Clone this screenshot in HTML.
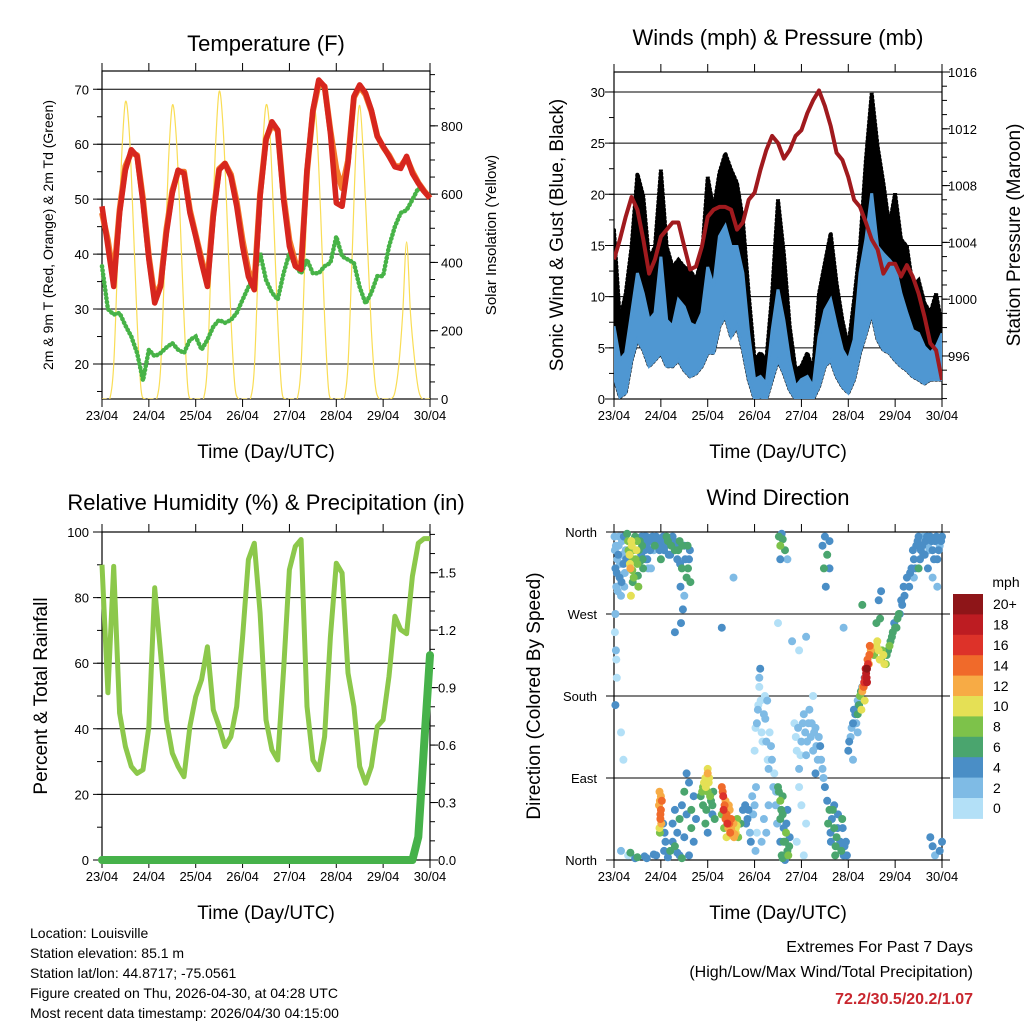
<!DOCTYPE html>
<html><head><meta charset="utf-8"><title>Weather station summary</title>
<style>
html,body{margin:0;padding:0;background:#fff;}
svg{display:block;font-family:"Liberation Sans",Arial,sans-serif;}
</style></head>
<body>
<svg id="chart" width="1024" height="1024" viewBox="0 0 1024 1024" xmlns="http://www.w3.org/2000/svg">
<rect x="0" y="0" width="1024" height="1024" fill="#fff"/>
<g id="layer"></g>
<text x="266" y="51" font-size="22" text-anchor="middle">Temperature (F)</text>
<text x="778" y="45" font-size="22" text-anchor="middle">Winds (mph) &amp; Pressure (mb)</text>
<text x="266" y="510" font-size="22" text-anchor="middle">Relative Humidity (%) &amp; Precipitation (in)</text>
<text x="778" y="505" font-size="22" text-anchor="middle">Wind Direction</text>
<text x="266" y="458" font-size="19" text-anchor="middle">Time (Day/UTC)</text>
<text x="778" y="458" font-size="19" text-anchor="middle">Time (Day/UTC)</text>
<text x="266" y="919" font-size="19" text-anchor="middle">Time (Day/UTC)</text>
<text x="778" y="919" font-size="19" text-anchor="middle">Time (Day/UTC)</text>
<text transform="translate(53,235) rotate(-90)" font-size="14" text-anchor="middle">2m &amp; 9m T (Red, Orange) &amp; 2m Td (Green)</text>
<text transform="translate(496,235) rotate(-90)" font-size="15" text-anchor="middle">Solar Insolation (Yellow)</text>
<text transform="translate(563,235) rotate(-90)" font-size="19" text-anchor="middle">Sonic Wind &amp; Gust (Blue, Black)</text>
<text transform="translate(1020,235) rotate(-90)" font-size="19" text-anchor="middle">Station Pressure (Maroon)</text>
<text transform="translate(47,696) rotate(-90)" font-size="19" text-anchor="middle">Percent &amp; Total Rainfall</text>
<text transform="translate(540,696) rotate(-90)" font-size="19" text-anchor="middle">Direction (Colored By Speed)</text>
<text x="1006" y="587" font-size="14" text-anchor="middle">mph</text>
<g font-size="14">
<text x="30" y="938">Location: Louisville</text>
<text x="30" y="958">Station elevation: 85.1 m</text>
<text x="30" y="978">Station lat/lon: 44.8717; -75.0561</text>
<text x="30" y="998">Figure created on Thu, 2026-04-30, at 04:28 UTC</text>
<text x="30" y="1018">Most recent data timestamp: 2026/04/30 04:15:00</text>
</g>
<text x="973" y="952" font-size="16" text-anchor="end">Extremes For Past 7 Days</text>
<text x="973" y="977" font-size="16" text-anchor="end">(High/Low/Max Wind/Total Precipitation)</text>
<text x="973" y="1004" font-size="16" font-weight="bold" fill="#c8262e" text-anchor="end">72.2/30.5/20.2/1.07</text>
</svg>
<script>
// ---------- data (3-hourly samples, index/8 = days since 23/04) ----------
const dayLabels = ["23/04","24/04","25/04","26/04","27/04","28/04","29/04","30/04"];
const temp2m = [48.7,41.4,34.1,47.5,55.3,59.0,57.8,49.3,39.0,31.1,34.1,43.8,51.1,55.3,54.7,47.5,43.2,38.4,34.1,46.8,55.3,56.5,54.1,48.7,41.4,35.9,33.5,50.5,60.8,64.1,62.6,49.9,41.4,37.8,37.2,55.3,66.2,71.7,70.5,62.0,49.3,48.7,56.5,68.7,70.8,69.3,66.2,61.4,59.6,57.8,55.9,55.6,57.8,54.7,52.9,51.4,50.2];
const temp9m = [47.5,42.5,35.5,48.0,56.0,58.5,58.0,50.0,39.5,32.0,34.5,44.5,51.5,55.0,55.0,48.0,43.5,39.0,35.0,47.5,55.5,56.5,54.5,49.5,42.5,37.0,34.5,51.0,61.0,63.5,62.5,50.5,42.5,38.5,38.0,55.0,66.0,71.0,70.5,62.5,55.5,52.0,57.0,68.5,70.5,69.0,66.0,61.5,59.5,58.0,56.0,56.0,57.5,55.0,53.0,51.5,50.2];
const dewpoint = [37.8,30.0,29.0,29.3,27.0,25.0,22.0,17.0,22.6,21.4,22.0,23.0,23.8,22.6,22.0,24.4,25.0,22.6,24.4,26.8,28.0,27.5,28.0,29.3,31.7,34.0,36.0,40.2,35.3,33.0,31.7,36.5,40.2,37.8,36.5,39.0,36.5,36.5,37.8,38.4,43.2,39.6,39.0,38.4,34.0,31.0,33.0,36.0,36.0,41.4,45.0,47.5,48.0,49.9,52.0,51.4,50.2];
// solar insolation, 2-hourly (index/12 = days)
const solar = [0,0,0,100,400,700,870,780,520,230,30,0, 0,0,0,90,380,690,860,770,530,240,30,0, 0,0,0,100,420,720,900,800,540,240,40,0, 0,0,0,90,390,700,860,780,520,230,30,0, 0,0,0,100,420,710,870,790,540,240,30,0, 0,0,0,100,400,720,860,700,450,200,40,0, 0,0,0,20,100,250,460,250,120,30,0,0, 0];
const gust = [16.5,7.7,10.3,14.9,22.0,19.8,13.6,14.9,22.4,14.9,12.9,13.6,12.9,12.6,11.6,13.9,21.7,18.5,22.1,24.0,22.4,21.1,17.5,10.3,3.8,4.5,3.8,10.3,19.5,14.2,7.1,2.8,3.2,4.5,2.8,10.3,13.3,16.2,11.3,7.7,5.1,9.7,14.9,23.4,29.9,24.7,21.1,16.9,20.1,15.6,14.9,11.0,11.6,9.4,8.4,10.3,7.1];
const windHigh = [7.1,3.8,4.5,8.4,12.3,10.3,7.7,8.4,13.9,7.7,7.1,9.7,9.0,7.4,7.1,8.4,12.9,11.0,15.9,16.9,14.9,14.9,12.3,6.4,1.9,2.2,1.5,6.7,10.7,7.7,3.8,1.2,1.9,2.2,1.2,6.1,8.7,9.7,7.1,4.8,3.8,5.8,12.3,15.6,20.1,14.9,14.2,13.6,12.9,10.3,8.4,6.7,6.4,5.1,4.5,5.1,6.4];
const windLow = [2.2,0.2,0.6,3.8,5.8,4.8,3.2,3.8,4.5,3.2,3.2,3.8,2.8,2.2,2.5,3.2,4.5,4.5,7.1,8.1,6.1,7.1,4.8,1.9,0,0.2,0,1.9,3.8,2.5,0.9,0,0,0,0,1.2,3.2,3.8,2.2,1.2,0.6,1.9,4.5,6.4,8.4,5.8,4.8,4.5,3.8,3.2,2.8,2.2,1.9,1.5,1.9,1.9,1.9];
const pressure = [1002.8,1004.2,1005.8,1007.2,1006.3,1004.2,1001.8,1002.8,1004.4,1004.9,1005.4,1005.4,1003.7,1002.1,1002.3,1003.7,1005.8,1006.3,1006.5,1006.5,1006.3,1004.9,1005.4,1007.0,1007.5,1009.1,1010.5,1011.5,1011.0,1009.9,1010.5,1011.5,1011.9,1013.1,1014.0,1014.7,1013.6,1012.2,1010.3,1009.8,1008.6,1007.0,1006.5,1005.4,1004.2,1003.5,1001.8,1002.5,1002.5,1001.6,1002.4,1001.6,1000.4,998.8,996.9,996.4,994.3];
const humidity = [90,51,89.5,44.8,34.6,28.5,26.4,27.5,40.7,83,63,42.7,32.6,28.5,25.4,40.7,49.8,55,65,45.8,40.7,34.6,37.6,46.8,68,91.6,96.6,75.3,42.7,33.6,30.5,58,88.5,95.6,97.7,46.8,30.5,27.5,37.6,68,90.5,87.5,57,46.8,28.5,23.4,28.5,40.7,42.7,56,74.3,70.2,69,86.5,96.6,98,98];
const rainfall = [0,0,0,0,0,0,0,0,0,0,0,0,0,0,0,0,0,0,0,0,0,0,0,0,0,0,0,0,0,0,0,0,0,0,0,0,0,0,0,0,0,0,0,0,0,0,0,0,0,0,0,0,0,0,0.12,0.6,1.07];
// wind direction scatter (observations)
const dirDays = [0.02,0.03,0.05,0.07,0.1,0.12,0.15,0.17,0.2,0.22,0.25,0.03,0.02,0.05,0.06,0.04,0.03,0.15,0.2,
0.3,0.33,0.35,0.38,0.4,0.42,0.45,0.48,0.5,0.52,0.55,0.58,0.6,0.62,0.65,0.68,0.7,0.73,0.36,0.4,
0.8,0.85,0.9,0.95,1.05,1.1,1.15,1.2,1.25,1.3,1.35,1.4,1.45,1.5,1.55,1.6,1.42,1.47,1.43,1.5,
0.97,0.98,1.0,0.99,1.0,0.98,1.05,1.08,1.1,1.07,
1.3,1.35,1.4,1.45,1.5,1.55,1.6,1.65,1.7,1.55,1.4,1.6,1.2,1.25,
1.85,1.9,1.95,2.0,2.02,2.05,2.1,2.15,2.12,1.97,2.0,
2.3,2.33,2.36,2.4,2.43,2.46,2.5,2.53,2.56,2.6,2.63,2.3,2.35,2.4,2.45,2.5,2.55,2.6,2.65,2.7,2.75,2.8,2.85,2.9,2.95,
3.0,3.05,3.08,3.1,3.15,3.2,3.22,3.25,3.28,3.3,3.35,3.4,3.45,3.1,3.12,3.0,3.05,3.02,3.2,
3.5,3.55,3.6,3.62,3.65,3.7,3.72,3.55,3.6,3.68,3.75,3.58,3.65,
3.52,3.55,3.6,3.65,3.58,3.55,
3.85,3.9,3.95,4.0,4.05,4.08,4.1,4.15,4.2,4.25,4.3,4.35,4.4,4.45,4.5,3.95,4.0,4.1,3.9,4.05,3.8,3.95,4.25,4.3,
4.45,4.5,4.55,4.6,4.52,4.48,4.6,
4.55,4.6,4.65,4.7,4.75,4.8,4.85,4.9,4.95,4.62,4.72,4.78,4.88,4.7,
5.0,5.05,5.1,5.15,5.2,5.25,5.1,5.2,5.3,5.35,
5.2,5.23,5.25,5.3,5.33,5.36,5.38,5.4,5.42,5.45,5.48,5.35,5.28,5.4,
5.55,5.6,5.65,5.7,5.75,5.8,5.85,5.9,5.95,6.0,6.05,6.1,5.6,5.65,5.7,5.68,6.15,6.2,
6.3,6.35,6.4,6.45,6.5,6.55,6.6,6.65,6.7,6.75,6.8,6.85,6.9,6.95,7.0,6.4,6.5,6.6,6.7,6.8,6.9,
6.75,6.8,6.85,6.95,7.0,
2.55,3.7,4.1,3.5,4.9,5.3,1.3,1.0,2.3,0.15,0.3,0.5,0.7,0.9];
const dirDegs = [340,320,300,330,345,310,290,350,325,300,340,270,250,220,200,230,170,140,110,
350,335,320,345,330,310,355,340,325,300,350,335,345,320,355,330,345,320,290,305,
350,340,355,345,355,345,350,335,355,340,330,350,320,345,310,330,300,275,260,290,
75,65,55,45,70,30,40,30,20,10,
15,30,45,60,75,50,85,35,20,95,5,5,10,20,
70,80,90,95,85,70,60,45,75,55,100,
80,70,60,50,45,40,35,30,25,35,45,50,35,25,60,45,40,30,25,40,55,60,45,30,70,
120,150,170,190,140,160,180,130,110,100,125,80,60,200,210,60,30,10,45,
80,65,50,35,20,10,5,20,70,40,25,5,0,
355,345,352,340,358,330,
150,120,100,130,160,140,115,150,135,120,145,110,125,100,80,80,60,40,20,5,240,230,180,95,
345,355,335,320,300,320,350,
65,55,45,35,25,15,10,5,20,30,5,50,35,60,
120,135,150,160,175,165,110,140,190,200,
160,170,180,185,190,200,205,210,215,225,230,175,165,195,
225,235,230,220,225,215,230,240,250,255,265,270,260,285,295,265,280,290,
300,320,330,345,355,340,355,350,345,355,340,350,330,345,355,310,320,335,320,310,300,
25,15,5,10,20,
310,330,245,260,255,280,250,330,255,10,5,3,2,5];
const dirSpeeds = [3,4,3,2,3,4,3,2,4,3,3,2,1,1,1,2,4,1,1,
8,10,12,11,9,8,7,10,9,8,6,5,7,6,4,5,4,3,10,7,
4,3,4,5,5,4,6,4,5,6,5,7,6,5,6,5,4,4,4,3,
12,13,14,15,12,8,4,4,5,4,
6,5,6,4,6,5,4,6,5,4,5,4,6,4,
7,8,10,12,11,8,6,6,7,6,10,
15,16,14,15,14,14,13,12,12,11,9,8,8,10,12,15,13,10,8,6,5,4,4,3,3,
1,2,1,1,0,2,1,2,1,2,3,2,2,3,4,2,1,2,3,
6,8,6,5,6,7,8,5,7,5,4,6,4,
6,8,7,6,5,4,
1,1,2,2,2,3,2,2,2,3,2,3,4,3,4,1,1,1,1,1,2,1,1,5,
4,5,6,5,4,6,4,
5,6,5,7,6,5,6,4,4,4,6,4,5,4,
4,3,4,4,3,4,3,2,4,4,
7,6,8,12,15,17,18,20,16,14,13,11,10,19,
8,10,11,9,10,8,6,7,6,7,6,5,6,5,4,7,4,4,
4,4,5,4,4,5,3,4,3,4,4,5,4,3,4,3,6,4,4,3,3,
4,4,3,5,4,
2,2,2,1,3,6,4,6,4,2,1,6,5,4];
// additional wind direction observations
const dirDaysB = [0.01,0.04,0.06,0.08,0.09,0.11,0.13,0.16,0.18,0.21,0.23,0.26,0.28,0.31,0.34,0.37,0.39,0.41,0.43,0.46,0.49,0.51,0.53,0.56,0.59,0.61,0.63,0.66,0.69,0.71,0.74,0.77,0.79,
0.82,0.87,0.92,0.97,1.02,1.07,1.12,1.17,1.22,1.27,1.32,1.37,1.41,1.46,1.52,1.57,1.62,1.58,1.63,
0.96,0.99,1.01,0.97,1.02,
0.35,0.45,0.65,0.85,1.15,1.35,1.45,1.25,1.3,1.5,1.65,1.7,1.75,
1.88,1.92,1.96,2.0,2.03,2.07,2.1,1.9,1.95,2.0,
2.32,2.34,2.38,2.42,2.44,2.48,2.52,2.55,2.58,2.62,2.38,2.47,
2.82,2.87,2.92,2.97,3.03,
3.02,3.07,3.13,3.17,3.23,3.27,3.32,3.37,3.42,3.46,3.48,3.3,3.25,3.15,
3.52,3.57,3.62,3.67,3.7,3.74,3.6,3.55,
3.88,3.93,3.98,4.03,4.12,4.17,4.22,4.27,4.32,4.37,4.42,4.47,
4.57,4.63,4.67,4.73,4.77,4.83,4.87,4.92,4.97,
5.02,5.07,5.12,5.17,5.22,5.27,
5.31,5.34,5.37,5.39,5.41,5.44,5.46,
5.57,5.62,5.67,5.72,5.77,5.82,5.88,5.93,5.98,6.03,6.08,6.13,6.18,6.25,
6.32,6.38,6.43,6.48,6.53,6.58,6.63,6.68,6.73,6.78,6.83,6.88,6.93,6.98];
const dirDegsB = [355,345,315,295,335,355,325,305,335,355,315,330,358,340,325,350,318,340,352,330,350,312,340,328,355,330,350,340,355,330,350,340,320,
355,345,350,340,350,340,355,335,345,350,345,340,325,345,330,345,340,320,305,
60,50,40,35,65,
8,2,4,6,3,8,2,40,55,25,55,70,45,
75,85,80,75,90,65,50,60,40,30,
75,55,45,40,35,30,28,35,28,38,65,55,
40,55,20,50,80,
145,165,175,130,155,175,140,110,95,75,40,60,30,20,
75,55,20,30,55,15,2,45,
135,145,115,150,130,165,150,140,125,135,110,90,
40,20,55,15,35,20,45,15,5,
130,145,165,150,170,185,
190,195,210,200,220,215,235,
230,240,220,230,215,225,235,245,260,255,270,285,300,310,
315,340,320,350,330,345,335,355,340,350,330,355,340,350];
const dirSpeedsB = [3,2,4,3,4,3,2,4,3,4,3,5,6,9,11,10,9,8,7,8,9,7,6,7,5,6,5,4,5,4,5,4,3,
5,6,4,5,4,5,6,5,6,4,5,6,5,6,5,6,4,6,6,
13,14,12,11,15,
6,5,4,5,5,4,6,5,4,5,6,4,5,
9,10,11,9,11,7,5,7,6,5,
14,16,15,16,13,14,13,11,12,10,13,12,
5,4,4,3,2,
1,2,1,1,2,2,1,2,1,2,3,2,2,2,
7,7,6,8,5,6,7,6,
1,2,1,2,2,2,3,2,3,2,3,3,
6,5,7,6,5,4,6,5,4,
4,3,4,3,5,6,
13,16,18,19,15,12,14,
9,11,10,9,10,7,8,6,5,6,6,5,4,4,
4,5,4,4,5,4,4,4,3,5,4,4,5,4];
const speedBins = ["0","2","4","6","8","10","12","14","16","18","20+"];
const speedColors = ["#b3e0f7","#7fbbe5","#4a8ec6","#4aa56e","#7dc24a","#e5e055","#f7ab45","#f06a2a","#dd3229","#bd1c22","#8e1518"];

// ---------- helpers ----------
const NS = 'http://www.w3.org/2000/svg';
const layer = document.getElementById('layer');
function mk(tag, parent, attrs) {
  const e = document.createElementNS(NS, tag);
  for (const k in attrs) e.setAttribute(k, attrs[k]);
  (parent || layer).appendChild(e);
  return e;
}
function scale(d0, d1, r0, r1) { return v => r0 + (v - d0) / (d1 - d0) * (r1 - r0); }

const P1 = {x0:102, x1:430, y0:71, y1:399};
const P2 = {x0:614, x1:942, y0:72, y1:399};
const P3 = {x0:102, x1:430, y0:532, y1:860};
const P4 = {x0:614, x1:942, y0:532, y1:860};

function axisX(P) { return scale(0, 7, P.x0, P.x1); }

function drawFrame(P, name) {
  const g = mk('g', layer, {});
  
  
  const r = mk('rect', g, {x:P.x0, y:P.y0, width:P.x1-P.x0, height:P.y1-P.y0, fill:'none', stroke:'#000', 'stroke-width':1.2});
  
  
  const xs = axisX(P);
  for (let d = 0; d < dayLabels.length; d++) {
    const x = xs(d);
    const t1 = mk('line', g, {x1:x, x2:x, y1:P.y0-8, y2:P.y0, stroke:'#000', 'stroke-width':1});
    
    
    const t2 = mk('line', g, {x1:x, x2:x, y1:P.y1, y2:P.y1+8, stroke:'#000', 'stroke-width':1});
    
    
    const lb = mk('text', g, {x:x, y:P.y1+21, 'font-size':13, 'text-anchor':'middle'});
    lb.textContent = dayLabels[d];
    
    
  }
  return g;
}
function leftAxis(g, P, ys, majors, minors, fmt, labelX, grid) {
  minors.forEach(v => {
    const y = ys(v);
    const t = mk('line', g, {x1:P.x0-5, x2:P.x0, y1:y, y2:y, stroke:'#000', 'stroke-width':1});
    
    
  });
  majors.forEach(v => {
    const y = ys(v);
    const t = mk('line', g, {x1:P.x0-9, x2:grid ? P.x1 : P.x0, y1:y, y2:y, stroke:'#000', 'stroke-width':1});
    
    
    const lb = mk('text', g, {x:labelX, y:y+5, 'font-size':13, 'text-anchor':'end'});
    lb.textContent = fmt(v);
    
    
  });
}
function rightAxis(g, P, ys, majors, minors, fmt, labelX) {
  minors.forEach(v => {
    const y = ys(v);
    const t = mk('line', g, {x1:P.x1, x2:P.x1+5, y1:y, y2:y, stroke:'#000', 'stroke-width':1});
    
    
  });
  majors.forEach(v => {
    const y = ys(v);
    const t = mk('line', g, {x1:P.x1, x2:P.x1+8, y1:y, y2:y, stroke:'#000', 'stroke-width':1});
    
    
    const lb = mk('text', g, {x:labelX, y:y+5, 'font-size':13, 'text-anchor':'start'});
    lb.textContent = fmt(v);
    
    
  });
}
function range(a, b, s) { const r = []; for (let v = a; v <= b + 1e-9; v += s) r.push(+v.toFixed(4)); return r; }
function pathFrom(arr, xs, ys, step) {
  return arr.map((v, i) => (i ? 'L' : 'M') + xs(i * step).toFixed(1) + ',' + ys(v).toFixed(1)).join('');
}
function smoothPath(arr, xs, ys, step) {
  const pts = arr.map((v, i) => [xs(i * step), ys(v)]);
  let d = 'M' + pts[0][0].toFixed(1) + ',' + pts[0][1].toFixed(1);
  for (let i = 0; i < pts.length - 1; i++) {
    const p0 = pts[Math.max(0, i-1)], p1 = pts[i], p2 = pts[i+1], p3 = pts[Math.min(pts.length-1, i+2)];
    const c1 = [p1[0] + (p2[0]-p0[0])/6, p1[1] + (p2[1]-p0[1])/6];
    const c2 = [p2[0] - (p3[0]-p1[0])/6, p2[1] - (p3[1]-p1[1])/6];
    d += 'C' + c1[0].toFixed(1) + ',' + c1[1].toFixed(1) + ' ' + c2[0].toFixed(1) + ',' + c2[1].toFixed(1) + ' ' + p2[0].toFixed(1) + ',' + p2[1].toFixed(1);
  }
  return d;
}
function clip(P, id) {
  const defs = mk('defs', layer, {});
  const cp = mk('clipPath', defs, {id:id});
  mk('rect', cp, {x:P.x0, y:P.y0, width:P.x1-P.x0, height:P.y1-P.y0});
}

// ---------- Panel 1: temperature ----------
(function () {
  const g = drawFrame(P1, 'temperature');
  const xs = axisX(P1);
  const yT = scale(13.63, 73.33, P1.y1, P1.y0);
  const yS = scale(0, 960.6, P1.y1, P1.y0);
  clip(P1, 'c1');
  leftAxis(g, P1, yT, range(20, 70, 10), range(15, 70, 5), v => v, 89, true);
  rightAxis(g, P1, yS, range(0, 800, 200), range(0, 950, 50), v => v, 441);
  const sp = mk('path', layer, {d:smoothPath(solar, xs, yS, 1/12), fill:'none', stroke:'#f9dd55', 'stroke-width':1.2, 'clip-path':'url(#c1)'});
  
  
  const dp = mk('path', layer, {d:pathFrom(dewpoint, xs, yT, 1/8), fill:'none', stroke:'#47b347', 'stroke-width':4.5, 'stroke-dasharray':'0.5 3.5', 'stroke-linecap':'round'});
  
  
  const o = mk('path', layer, {d:pathFrom(temp9m, xs, yT, 1/8), fill:'none', stroke:'#f47a2b', 'stroke-width':6, 'stroke-linejoin':'round'});
  
  
  const r = mk('path', layer, {d:pathFrom(temp2m, xs, yT, 1/8), fill:'none', stroke:'#d7261e', 'stroke-width':5.5, 'stroke-linejoin':'round'});
  
  
})();

// ---------- Panel 2: winds & pressure ----------
(function () {
  const g = drawFrame(P2, 'winds');
  const xs = axisX(P2);
  const yW = scale(0, 31.95, P2.y1, P2.y0);
  const yP = scale(992.97, 1016, P2.y1, P2.y0);
  clip(P2, 'c2');
  leftAxis(g, P2, yW, range(0, 30, 5), range(0, 30, 2.5), v => v, 605, true);
  rightAxis(g, P2, yP, range(996, 1016, 4), range(993, 1016, 1), v => v, 948);
  function band(lo, hi) {
    let d = '';
    hi.forEach((v, i) => { d += (i ? 'L' : 'M') + xs(i/8).toFixed(1) + ',' + yW(v).toFixed(1); });
    for (let i = lo.length - 1; i >= 0; i--) d += 'L' + xs(i/8).toFixed(1) + ',' + yW(lo[i]).toFixed(1);
    return d + 'Z';
  }
  const gb = mk('path', layer, {d:band(windLow, gust), fill:'#000', stroke:'#000', 'stroke-width':4, 'stroke-dasharray':'1 3', 'stroke-linecap':'round', 'clip-path':'url(#c2)'});
  
  
  const wb = mk('path', layer, {d:band(windLow, windHigh), fill:'#4f97d2', stroke:'#4f97d2', 'stroke-width':3, 'clip-path':'url(#c2)'});
  
  
  const p = mk('path', layer, {d:pathFrom(pressure, xs, yP, 1/8), fill:'none', stroke:'#a01a1e', 'stroke-width':4, 'stroke-linejoin':'round', 'clip-path':'url(#c2)'});
  
  
})();

// ---------- Panel 3: humidity & precipitation ----------
(function () {
  const g = drawFrame(P3, 'humidity');
  const xs = axisX(P3);
  const yH = scale(0, 100, P3.y1, P3.y0);
  const yR = scale(0, 1.7125, P3.y1, P3.y0);
  leftAxis(g, P3, yH, range(0, 100, 20), range(0, 100, 10), v => v, 89, true);
  rightAxis(g, P3, yR, range(0, 1.5, 0.3), range(0, 1.7, 0.1), v => v.toFixed(1), 438);
  const h = mk('path', layer, {d:pathFrom(humidity, xs, yH, 1/8), fill:'none', stroke:'#8cc84b', 'stroke-width':5, 'stroke-linejoin':'round'});
  
  
  const r = mk('path', layer, {d:pathFrom(rainfall, xs, yR, 1/8), fill:'none', stroke:'#46b24a', 'stroke-width':8, 'stroke-linejoin':'round', 'stroke-linecap':'round'});
  
  
})();

// ---------- Panel 4: wind direction ----------
(function () {
  const g = drawFrame(P4, 'wind-direction');
  const xs = axisX(P4);
  const yD = scale(0, 360, P4.y1, P4.y0);
  const names = ['North','East','South','West','North'];
  [0, 90, 180, 270, 360].forEach((v, k) => {
    const y = yD(v);
    const l = mk('line', g, {x1:P4.x0-8, x2:P4.x1+8, y1:y, y2:y, stroke:'#000', 'stroke-width':1});
    
    
    const t = mk('text', g, {x:597, y:y+5, 'font-size':13, 'text-anchor':'end'});
    t.textContent = names[k];
    
    
  });
  clip({x0:P4.x0-4, x1:P4.x1+4, y0:P4.y0-4, y1:P4.y1+4}, 'c4');
  const pg = mk('g', layer, {'clip-path':'url(#c4)'});
  
  
  const allDays = dirDays.concat(dirDaysB);
  const allDegs = dirDegs.concat(dirDegsB);
  const allSpeeds = dirSpeeds.concat(dirSpeedsB);
  const order = allDays.map((d, i) => i).sort((a, b) => allSpeeds[a] - allSpeeds[b]);
  order.forEach(i => {
    const bin = Math.min(10, Math.floor(allSpeeds[i] / 2));
    const c = mk('circle', pg, {cx:xs(allDays[i]).toFixed(1), cy:yD(allDegs[i]).toFixed(1), r:4, fill:speedColors[bin]});
    
    
  });
  // colorbar
  const cb = mk('g', layer, {});
  
  
  const bh = 20.4;
  for (let k = 0; k < speedBins.length; k++) {
    const idx = speedBins.length - 1 - k;
    const y = 594 + k * bh;
    const b = mk('rect', cb, {x:953, y:y.toFixed(1), width:30, height:(bh+0.5).toFixed(1), fill:speedColors[idx]});
    
    
    const t = mk('text', cb, {x:993, y:(y + bh/2 + 5).toFixed(1), 'font-size':14});
    t.textContent = speedBins[idx];
    
    
  }
})();
</script>
</body></html>
